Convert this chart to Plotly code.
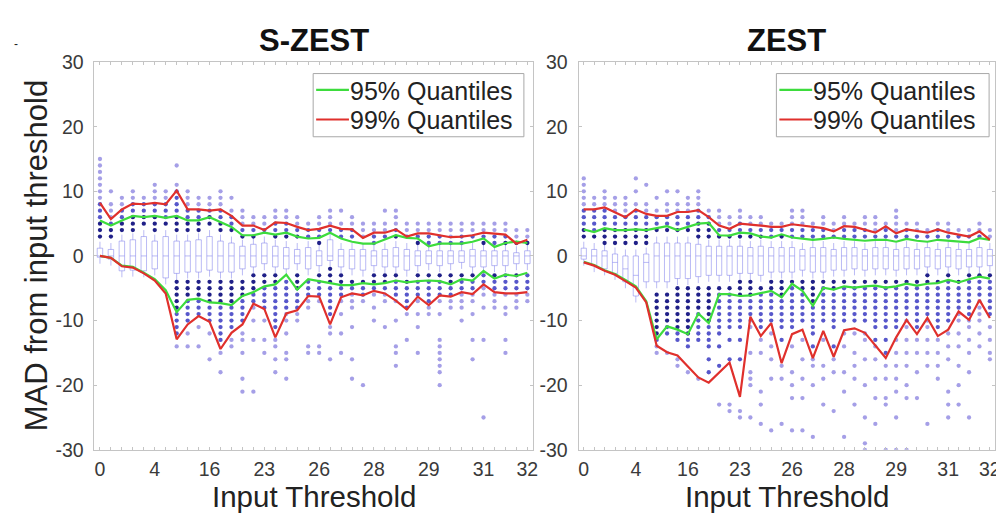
import numpy as np
import plotly.graph_objects as go

# ---------------- data ----------------
CATS = list(range(1, 41))
TICK_POS = [1, 6, 11, 16, 21, 26, 31, 36, 40]
TICK_LABELS = ["0", "4", "16", "23", "26", "28", "29", "31", "32"]
Y_TICKS = [-30, -20, -10, 0, 10, 20, 30]
SERIES_NAMES = ["95% Quantiles", "99% Quantiles"]

# S-ZEST quantile lines
S_UP95 = [5.5, 4.7, 5.5, 6.2, 6.0, 6.2, 5.9, 6.2, 5.5, 5.5, 6.0, 5.2, 4.5, 3.2, 3.2, 3.6, 3.3, 3.6, 3.0, 2.7,
          2.8, 3.6, 2.7, 2.2, 1.9, 1.9, 2.5, 3.2, 2.8, 2.7, 1.5, 1.9, 1.9, 1.9, 2.2, 2.7, 1.4, 2.0, 2.2, 2.0]
S_LO95 = [0.0, -0.3, -1.5, -1.7, -2.6, -3.6, -5.3, -8.7, -6.8, -6.6, -7.2, -7.3, -7.6, -6.2, -5.6, -4.7, -4.4, -2.9, -5.2, -3.6,
          -3.9, -4.2, -4.5, -4.5, -4.2, -4.4, -4.2, -3.8, -4.1, -3.9, -3.8, -3.9, -4.4, -3.6, -3.8, -2.3, -3.5, -2.9, -3.1, -2.6]
S_UP99 = [8.2, 5.7, 7.2, 8.1, 8.0, 8.2, 8.0, 10.1, 7.2, 7.2, 7.0, 7.2, 6.2, 4.7, 4.7, 4.0, 5.2, 5.1, 4.5, 4.0,
          4.2, 4.7, 4.2, 4.1, 2.8, 3.6, 3.6, 4.1, 3.0, 3.5, 3.5, 3.2, 2.9, 3.0, 3.2, 3.6, 3.5, 3.3, 1.9, 2.5]
S_LO99 = [0.0, -0.3, -1.6, -1.8, -2.7, -3.8, -5.8, -12.9, -10.6, -9.3, -10.2, -14.4, -11.9, -10.6, -7.4, -8.2, -12.6, -8.9, -8.4, -6.2,
          -6.3, -10.6, -6.4, -5.8, -6.1, -5.4, -5.8, -6.9, -8.3, -6.3, -7.6, -6.1, -6.3, -5.6, -5.9, -4.4, -5.6, -5.8, -5.8, -5.6]
# S-ZEST boxes
S_Q3 = [1.2, 1.0, 2.3, 2.5, 3.0, 2.3, 3.0, 2.3, 2.3, 2.5, 3.0, 2.3, 2.0, 1.5, 1.8, 2.0, 1.5, 1.3, 1.0, 1.3,
        0.8, 2.5, 1.0, 1.0, 1.0, 0.8, 1.0, 1.3, 1.0, 0.8, 0.8, 0.8, 0.8, 0.8, 1.0, 0.8, 0.8, 0.8, 0.5, 0.8]
S_Q1 = [-0.2, -0.5, -2.3, -2.2, -2.3, -2.0, -3.4, -2.7, -2.5, -2.5, -2.2, -2.5, -2.5, -2.0, -1.7, -1.2, -1.7, -2.0, -1.2, -2.0,
        -1.5, -0.7, -1.7, -2.0, -2.2, -1.5, -1.7, -1.7, -2.2, -1.5, -1.2, -1.5, -1.2, -1.0, -1.7, -1.7, -1.5, -1.5, -1.2, -1.2]
S_MED = [0.0] * 40
# S-ZEST outlier columns (filled at every integer out to these limits) and sparse extremes
S_OUT_TOP = [12, 8, 8, 9, 8, 9, 9, 10, 8, 8, 8, 8, 7, 6, 5, 5, 6, 6, 5, 4,
             5, 5, 5, 5, 4, 4, 4, 5, 4, 4, 4, 4, 4, 4, 4, 4, 4, 4, 3, 3]
S_OUT_BOT = [0, 0, 0, 0, 0, 0, 0, -12, -10, -9, -10, -13, -11, -10, -8, -8, -11, -9, -8, -7,
             -7, -9, -7, -7, -7, -6, -6, -7, -8, -7, -7, -7, -6, -6, -7, -6, -6, -6, -6, -6]
S_EXTRA = [[13, 14, 15], [10], [9], [10], [9], [10, 11], [10], [11, 14, -14], [9, 10, -12, -14], [9, -11, -14],
           [9, -12, -16], [9, 10, -15, -18], [9, -13, -14], [7, -12, -13, -15, -19, -21], [6, -10, -13, -21],
           [6, -10, -13, -15], [7, -13, -14, -16, -18], [7, -10, -12, -15, -16, -19], [6, -9, -10], [5, -8, -14, -15],
           [6, -14, -15], [6, 7, -11, -12, -16], [7, -9, -12, -15], [6, -8, -11, -16, -19], [5, -20],
           [5, -8, -10], [5, 7, -7, -11], [6, 7, -10, -14, -15, -17], [5, -9, -13], [5, -9, -11, -15],
           [5, -8, -9], [5, -9, -13, -14, -15, -16, -17, -18, -20], [5, -7, -8], [5, -7, -8, -10], [5, -9, -13, -16],
           [5, -8, -13, -25], [5, -7, -8], [5, -8, -9, -13, -15], [4, -7, -8], [4, -7]]

# ZEST quantile lines
Z_UP95 = [4.1, 3.7, 4.3, 4.0, 4.0, 4.1, 4.0, 4.3, 4.6, 4.0, 4.5, 5.0, 5.1, 3.2, 3.15, 3.6, 3.5, 3.0, 2.85, 3.35,
          2.85, 2.65, 2.5, 2.65, 2.85, 2.65, 2.5, 2.35, 2.5, 2.5, 2.2, 2.65, 2.35, 2.2, 2.5, 2.35, 2.2, 2.1, 2.75, 2.5]
Z_LO95 = [-0.9, -1.4, -2.2, -2.8, -3.7, -4.7, -7.0, -12.9, -10.9, -11.4, -12.1, -8.9, -10.4, -5.9, -5.9, -6.2, -6.1, -5.8, -5.4, -6.4,
          -4.3, -5.4, -7.7, -4.9, -5.2, -4.7, -4.9, -4.7, -4.6, -4.9, -4.7, -4.3, -4.6, -4.3, -4.2, -3.7, -4.1, -3.6, -3.2, -3.5]
Z_UP99 = [7.2, 7.2, 7.5, 6.7, 6.0, 7.2, 6.5, 6.2, 6.2, 6.8, 6.8, 7.1, 6.0, 4.7, 4.2, 5.0, 4.9, 4.7, 4.5, 4.5,
          4.9, 4.7, 4.6, 4.3, 3.8, 4.6, 4.5, 4.1, 3.6, 4.6, 3.5, 4.1, 3.9, 3.6, 4.1, 3.6, 3.3, 3.0, 3.8, 2.5]
Z_LO99 = [-1.0, -1.5, -2.3, -2.9, -3.9, -4.9, -7.2, -13.9, -14.9, -15.4, -17.1, -18.8, -19.6, -18.1, -16.5, -21.8, -9.4, -12.4, -10.4, -16.6,
          -12.1, -11.4, -15.8, -11.6, -15.6, -11.5, -11.2, -11.9, -13.9, -15.8, -12.6, -9.9, -12.1, -9.6, -12.4, -11.4, -8.6, -9.9, -6.8, -9.6]
# ZEST boxes
Z_Q3 = [1.2, 1.0, 0.8, 0.3, 0.0, 0.0, 0.3, 2.0, 2.0, 2.0, 2.0, 1.8, 1.5, 1.5, 1.5, 1.5, 1.3, 1.5, 1.3, 1.3,
        1.3, 1.0, 1.3, 1.3, 1.0, 1.3, 1.3, 1.0, 1.3, 1.3, 1.0, 1.3, 1.0, 1.3, 1.0, 1.3, 1.0, 1.0, 1.3, 1.0]
Z_Q1 = [-0.5, -1.5, -2.0, -2.7, -4.0, -6.2, -4.0, -4.0, -4.0, -3.5, -3.5, -3.2, -3.0, -3.0, -3.0, -2.7, -2.7, -3.0, -2.5, -2.5,
        -2.5, -2.2, -2.5, -2.5, -2.2, -2.2, -2.0, -2.2, -2.0, -2.0, -2.2, -2.0, -2.0, -1.7, -2.0, -1.7, -2.0, -1.7, -1.7, -1.5]
Z_MED = [0.0, 0.0, 0.0, -1.0, -2.0, -3.0, -1.0] + [0.0] * 33
Z_OUT_TOP = [7, 7, 7, 6, 6, 7, 6, 6, 6, 6, 6, 7, 6, 5, 4, 5, 5, 5, 4, 4,
             5, 5, 4, 4, 4, 4, 4, 4, 4, 4, 4, 4, 4, 3, 4, 4, 3, 3, 4, 3]
Z_OUT_BOT = [0, 0, 0, 0, 0, 0, 0, -13, -12, -13, -14, -13, -14, -12, -11, -11, -11, -11, -10, -11,
             -11, -10, -12, -10, -11, -10, -10, -10, -11, -11, -11, -10, -11, -10, -10, -10, -9, -9, -8, -8]
Z_EXTRA = [[8, 9, 10, 11, 12], [8, 9], [8, 9, 10], [7, 8, 9], [7, 8, 9], [8, 10, 12], [7, 8, 11], [7, 9, -14, -15],
           [7, 8, 10, -15], [7, 8, 10, -16, -17], [7, 8, 9, -18], [8, 9, 10, -19], [7, -16, -18],
           [6, 7, -14, -17, -23], [5, 6, -13, -16, -23, -24], [6, 7, -13, -16, -24, -25], [6, -15, -18, -19, -20, -25],
           [6, -13, -15, -21, -23, -26], [5, -12, -14, -16, -19, -27], [5, -13, -17, -19, -26],
           [6, 7, -14, -18, -20, -22, -27], [6, 7, -13, -16, -19, -22, -27], [5, -14, -16, -17, -20, -28],
           [5, 6, -13, -17, -19, -23], [5, -14, -16, -18, -24], [5, 6, -12, -14, -18, -21, -28],
           [5, -12, -15, -17, -19, -23], [5, 6, -12, -13, -16, -20, -25, -29, -30], [5, 6, -13, -14, -16, -19, -22, -26],
           [5, -13, -15, -17, -19, -22, -23, -30], [5, 6, 7, -13, -15, -17, -19, -21, -25, -30],
           [5, -11, -13, -15, -17, -20, -22, -30], [5, -13, -15, -18, -22], [4, -11, -13, -15, -17, -26],
           [5, -11, -13, -15, -17, -19], [5, -12, -14, -16, -21, -23, -25], [4, -10, -12, -14, -17, -20, -23],
           [4, -10, -11, -13, -15, -18, -25], [5, -9, -10, -12, -14], [4, -9, -11, -13, -15, -16]]

# ---------------- styles ----------------
W, H = 1004, 516
FONT = "Liberation Sans, Arial, Helvetica, sans-serif"
GREEN = "#3ddc3d"
RED = "#e0302c"
BOX_COLOR = "rgba(120,120,235,0.5)"
DOT_DARK = "rgba(20,20,130,0.95)"
DOT_MID = "rgba(45,45,190,0.8)"
DOT_LIGHT = "rgba(105,95,215,0.6)"
FRAME = "#c4c4c4"

PANELS = [
    dict(x0=87, x1=528, title="S-ZEST", xa="x", ya="y", leg=(307, 519),
         up95=S_UP95, lo95=S_LO95, up99=S_UP99, lo99=S_LO99,
         q1=S_Q1, q3=S_Q3, med=S_MED, top=S_OUT_TOP, bot=S_OUT_BOT, extra=S_EXTRA),
    dict(x0=574, x1=993, title="ZEST", xa="x2", ya="y2", leg=(773, 987),
         up95=Z_UP95, lo95=Z_LO95, up99=Z_UP99, lo99=Z_LO99,
         q1=Z_Q1, q3=Z_Q3, med=Z_MED, top=Z_OUT_TOP, bot=Z_OUT_BOT, extra=Z_EXTRA),
]
Y_TOP, Y_BOT = 45, 450
LEG_TOP, LEG_BOT = 57, 123


def outliers(p):
    xs, ys, cs = [], [], []
    for i, c in enumerate(CATS):
        vals = list(range(int(np.floor(p["q3"][i] + 1)) + 1, p["top"][i] + 1))
        vals += list(range(int(np.ceil(p["q1"][i] - 1)) - 1, p["bot"][i] - 1, -1))
        vals += p["extra"][i]
        for v in vals:
            xs.append(c)
            ys.append(v)
            if p["lo95"][i] <= v <= p["up95"][i]:
                cs.append(DOT_DARK)
            elif p["lo99"][i] <= v <= p["up99"][i]:
                cs.append(DOT_MID)
            else:
                cs.append(DOT_LIGHT)
    return xs, ys, cs


def px(x):
    return x / W


def py(y):
    return (H - y) / H


def ann(text, x, y, size, color, bold=False, angle=0, xanchor="center"):
    fig.add_annotation(text=("<b>%s</b>" % text) if bold else text, x=px(x), y=py(y),
                       xref="paper", yref="paper", xanchor=xanchor, yanchor="middle",
                       showarrow=False, textangle=angle,
                       font=dict(family=FONT, size=size, color=color))


fig = go.Figure()
ticktext = [TICK_LABELS[TICK_POS.index(c)] if c in TICK_POS else "" for c in CATS]

for k, p in enumerate(PANELS):
    fig.add_trace(go.Box(
        x=CATS, q1=p["q1"], median=p["med"], q3=p["q3"],
        lowerfence=[v - 1 for v in p["q1"]], upperfence=[v + 1 for v in p["q3"]],
        boxpoints=False, width=0.5, whiskerwidth=0,
        line=dict(color=BOX_COLOR, width=1), fillcolor="rgba(0,0,0,0)",
        showlegend=False, hoverinfo="skip", xaxis=p["xa"], yaxis=p["ya"]))
    xs, ys, cs = outliers(p)
    fig.add_trace(go.Scatter(
        x=xs, y=ys, mode="markers", marker=dict(size=4.3, color=cs, line=dict(width=0)),
        showlegend=False, hoverinfo="skip", xaxis=p["xa"], yaxis=p["ya"]))
    for name, up, lo, col in [(SERIES_NAMES[0], p["up95"], p["lo95"], GREEN),
                              (SERIES_NAMES[1], p["up99"], p["lo99"], RED)]:
        for ser in (up, lo):
            fig.add_trace(go.Scatter(x=CATS, y=ser, mode="lines", name=name, showlegend=False,
                                     line=dict(color=col, width=2.2),
                                     xaxis=p["xa"], yaxis=p["ya"]))

    axis_common = dict(showline=True, linecolor=FRAME, linewidth=1, mirror="ticks",
                       ticks="inside", tickcolor=FRAME, ticklen=3, showgrid=False, zeroline=False,
                       ticklabeloverflow="allow",
                       tickfont=dict(family=FONT, size=19.5, color="#3a3a3a"))
    suffix = "" if k == 0 else "2"
    fig.update_layout(**{
        "xaxis" + suffix: dict(domain=[px(p["x0"]), px(p["x1"])], range=[0.5, 40.5],
                               tickmode="array", tickvals=CATS, ticktext=ticktext,
                               ticklabelstandoff=2, anchor="y" + suffix, **axis_common),
        "yaxis" + suffix: dict(domain=[py(Y_BOT), py(Y_TOP)], range=[-30, 30],
                               tickmode="array", tickvals=Y_TICKS, ticktext=[str(v) for v in Y_TICKS],
                               ticklabelstandoff=6, anchor="x" + suffix, **axis_common),
    })
    ann(p["title"], (p["x0"] + p["x1"]) / 2, 22, 31, "#111", bold=True)
    ann("Input Threshold", (p["x0"] + p["x1"]) / 2, 499, 29.5, "#222")

    # legend box drawn inside the axes, top-right
    lx0, lx1 = p["leg"]
    fig.add_shape(type="rect", xref="paper", yref="paper", x0=px(lx0), x1=px(lx1),
                  y0=py(LEG_BOT), y1=py(LEG_TOP), line=dict(color="#a8a8a8", width=1),
                  fillcolor="white", layer="above")
    for j, (name, col) in enumerate(zip(SERIES_NAMES, [GREEN, RED])):
        yy = 74 + j * 31
        fig.add_shape(type="line", xref="paper", yref="paper", x0=px(lx0 + 3), x1=px(lx0 + 36),
                      y0=py(yy), y1=py(yy), line=dict(color=col, width=2.2), layer="above")
        ann(name, lx0 + 35, yy + 1, 25, "#222", xanchor="left")

ann("MAD from input threshold", 29, 247, 31, "#222", angle=-90)
ann("-", 8, 26, 12, "#222")

fig.update_layout(width=W, height=H, margin=dict(l=0, r=0, t=0, b=0),
                  paper_bgcolor="white", plot_bgcolor="white", boxmode="overlay", showlegend=False)

fig.write_html("out.html")
